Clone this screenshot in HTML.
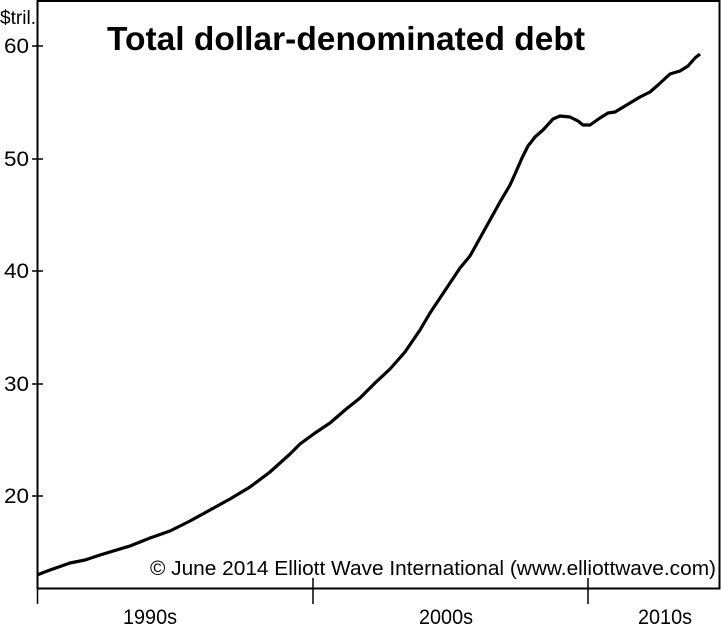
<!DOCTYPE html>
<html><head><meta charset="utf-8"><style>
body{margin:0;background:#fff}
svg{display:block;font-family:"Liberation Sans",Arial,sans-serif}
</style></head><body>
<svg width="721" height="628" viewBox="0 0 721 628" xmlns="http://www.w3.org/2000/svg">
<rect x="37.5" y="1" width="682" height="587.5" fill="none" stroke="#000" stroke-width="2"/>
<g stroke="#000" stroke-width="1.5">
<line x1="32" y1="46" x2="43" y2="46"/>
<line x1="32" y1="159" x2="43" y2="159"/>
<line x1="32" y1="271" x2="43" y2="271"/>
<line x1="32" y1="384" x2="43" y2="384"/>
<line x1="32" y1="496" x2="43" y2="496"/>
<line x1="37.5" y1="588" x2="37.5" y2="604"/>
<line x1="313" y1="578" x2="313" y2="604"/>
<line x1="588" y1="578" x2="588" y2="604"/>
</g>
<g font-size="21" text-anchor="end">
<text x="29" y="53" textLength="25" lengthAdjust="spacingAndGlyphs">60</text>
<text x="29" y="166" textLength="25" lengthAdjust="spacingAndGlyphs">50</text>
<text x="29" y="278" textLength="25" lengthAdjust="spacingAndGlyphs">40</text>
<text x="29" y="391" textLength="25" lengthAdjust="spacingAndGlyphs">30</text>
<text x="29" y="503" textLength="25" lengthAdjust="spacingAndGlyphs">20</text>
</g>
<text x="0" y="24" font-size="19" textLength="36" lengthAdjust="spacingAndGlyphs">$tril.</text>
<text x="107" y="50" font-size="33" font-weight="bold" textLength="478" lengthAdjust="spacingAndGlyphs">Total dollar-denominated debt</text>
<text x="150" y="575" font-size="20" textLength="566" lengthAdjust="spacingAndGlyphs">© June 2014 Elliott Wave International (www.elliottwave.com)</text>
<g font-size="21">
<text x="123" y="624" textLength="54" lengthAdjust="spacingAndGlyphs">1990s</text>
<text x="419" y="624" textLength="54" lengthAdjust="spacingAndGlyphs">2000s</text>
<text x="638" y="624" textLength="54" lengthAdjust="spacingAndGlyphs">2010s</text>
</g>
<polyline fill="none" stroke="#000" stroke-width="3.2" stroke-linejoin="round" points="37,575 50,570 70,563 85,560 100,555 130,546 150,538 170,531 190,521 210,510 230,499 250,487 270,472 290,454 300,444 315,433 330,423 345,410 360,398 375,383 390,369 405,352 420,330 430,313 440,298 450,283 460,268 470,256 480,238 490,220 500,202 510,185 515,174 522,158 528,146 535,137 543,130 553,119 560,116 570,117 578,121 583,125 590,125 600,118 608,113 615,112 625,106 640,97 650,92 658,85 670,74 680,71 688,66 695,58 700,54"/>
</svg>
</body></html>
